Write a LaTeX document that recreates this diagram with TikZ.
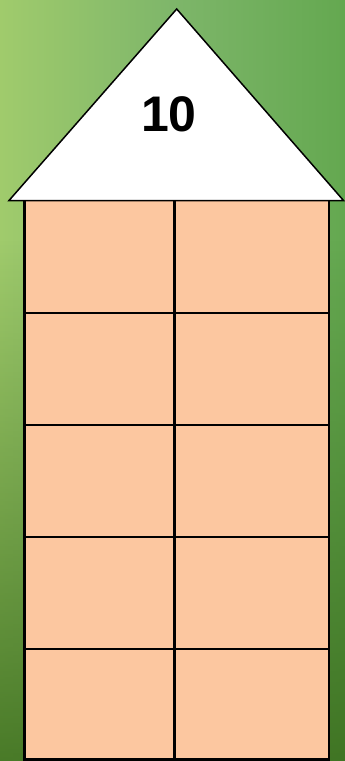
\documentclass[tikz,border=0pt]{standalone}
\usepackage{fontspec}
\setmainfont{Liberation Sans}
\usetikzlibrary{fadings}
\definecolor{bgL}{RGB}{160,203,108}
\definecolor{bgM}{RGB}{126,182,106}
\definecolor{bgR}{RGB}{100,168,80}
\definecolor{bgD}{RGB}{58,108,28}
\definecolor{peach}{RGB}{252,199,160}
\tikzset{
  cellline/.style={draw=black,line width=2.4pt},
  roofstyle/.style={draw=black,fill=white,line width=1.5pt,line join=miter},
  numlabel/.style={font=\bfseries\fontsize{50}{50}\selectfont,text=black,inner sep=0pt}
}
\begin{document}
\begin{tikzpicture}[x=1pt,y=-1pt]
\useasboundingbox (0,0) rectangle (345,761);
% background
\shade[left color=bgL,right color=bgR,middle color=bgM] (0,0) rectangle (345,761);
\fill[bgD,path fading=north,fill opacity=0.85] (0,240) rectangle (345,761);
% house body
\fill[peach] (24.5,200.5) rectangle (329,760);
\foreach \yy in {312.7,425,536.7,649}{
  \draw[cellline] (24.5,\yy) -- (329,\yy);
}
\draw[cellline] (174.5,200.5) -- (174.5,761);
\draw[cellline] (24.5,200.5) -- (24.5,761);
\draw[cellline] (329,200.5) -- (329,761);
\draw[cellline] (24.5,759.5) -- (329,759.5);
% roof
\coordinate (rl) at (9,200.5);
\coordinate (rr) at (343.5,200.5);
\coordinate (ra) at (176.7,9);
\draw[roofstyle] (rl) -- (ra) -- (rr) -- cycle;
\node[numlabel] (num) at (169,114) {10};
\end{tikzpicture}
\end{document}
